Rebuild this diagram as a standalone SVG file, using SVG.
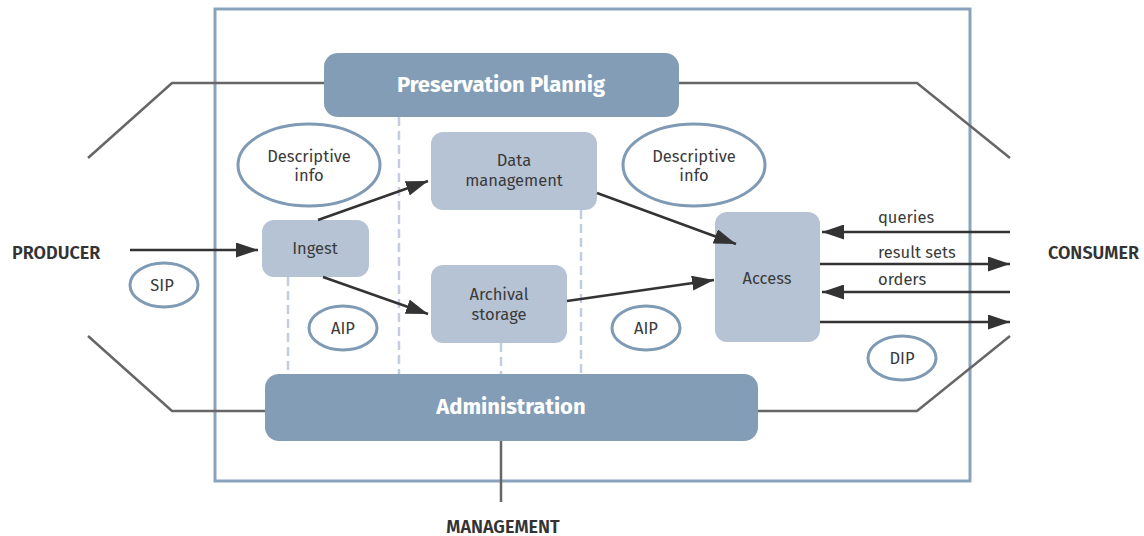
<svg xmlns="http://www.w3.org/2000/svg" width="1144" height="536" viewBox="0 0 1144 536">
<defs>
<marker id="ah" viewBox="0 0 22 15" refX="22" refY="7.5" markerWidth="22" markerHeight="15" markerUnits="userSpaceOnUse" orient="auto">
<path d="M0,0 L22,7.5 L0,15 Z" fill="#333333"/>
</marker>
<style>
.frame{fill:none;stroke:#8aa3bd;stroke-width:3}
.big{fill:#839db6}
.box{fill:#b6c3d4}
.ell{fill:#ffffff;stroke:#7f9ab5;stroke-width:3}
.gl{fill:none;stroke:#666666;stroke-width:2.5}
.ar{fill:none;stroke:#333333;stroke-width:2.5;marker-end:url(#ah)}
.dash{fill:none;stroke:#c3cde0;stroke-width:2.5;stroke-dasharray:9,5}
.t{font-family:"Fira Sans","Noto Sans","Open Sans",sans-serif;font-size:16.5px;fill:#3a3a3a;text-anchor:middle}
.tl{font-family:"Fira Sans","Noto Sans","Open Sans",sans-serif;font-size:16.5px;fill:#3a3a3a}
.h{font-family:"Fira Sans","Noto Sans","Open Sans",sans-serif;font-size:22px;font-weight:bold;fill:#ffffff;text-anchor:middle}
.ext{font-family:"Fira Sans","Noto Sans","Open Sans",sans-serif;font-size:18px;font-weight:600;fill:#333333}
</style>
</defs>
<rect x="0" y="0" width="1144" height="536" fill="#ffffff"/>
<rect class="frame" x="215" y="9" width="755" height="472"/>

<g id="lines">
<polyline class="gl" points="88,158 172,83 324,83"/>
<polyline class="gl" points="679,83 917,83 1010,158"/>
<polyline class="gl" points="88,336 172,411 265,411"/>
<polyline class="gl" points="758,411 917,411 1010,336"/>
<line class="gl" x1="501" y1="441" x2="501" y2="502"/>
<line class="dash" x1="288" y1="277" x2="288" y2="374"/>
<line class="dash" x1="399" y1="117" x2="399" y2="374"/>
<line class="dash" x1="501" y1="343" x2="501" y2="374"/>
<line class="dash" x1="581" y1="210" x2="581" y2="374"/>
</g>

<g id="preservation">
<rect class="big" x="324" y="53" width="355" height="64" rx="14"/>
<text class="h" x="501" y="92">Preservation Plannig</text>
</g>
<g id="administration">
<rect class="big" x="265" y="374" width="493" height="67" rx="14"/>
<text class="h" x="511" y="414">Administration</text>
</g>
<g id="ingest">
<rect class="box" x="262" y="220" width="107" height="57" rx="12"/>
<text class="t" x="315" y="254">Ingest</text>
</g>
<g id="datamgmt">
<rect class="box" x="431" y="132" width="166" height="78" rx="12"/>
<text class="t" x="514" y="166">Data</text>
<text class="t" x="514" y="186">management</text>
</g>
<g id="archival">
<rect class="box" x="431" y="265" width="136" height="78" rx="12"/>
<text class="t" x="499" y="300">Archival</text>
<text class="t" x="499" y="320">storage</text>
</g>
<g id="access">
<rect class="box" x="715" y="212" width="105" height="130" rx="12"/>
<text class="t" x="767" y="284">Access</text>
</g>
<g id="desc1">
<ellipse class="ell" cx="309" cy="165" rx="71" ry="41"/>
<text class="t" x="309" y="162">Descriptive</text>
<text class="t" x="309" y="181">info</text>
</g>
<g id="desc2">
<ellipse class="ell" cx="694" cy="165" rx="71" ry="41"/>
<text class="t" x="694" y="162">Descriptive</text>
<text class="t" x="694" y="181">info</text>
</g>
<g id="sip">
<ellipse class="ell" cx="164" cy="285" rx="34" ry="22"/>
<text class="t" x="162" y="291">SIP</text>
</g>
<g id="aip1">
<ellipse class="ell" cx="343" cy="328" rx="34" ry="22"/>
<text class="t" x="343" y="334">AIP</text>
</g>
<g id="aip2">
<ellipse class="ell" cx="646" cy="328" rx="34" ry="22"/>
<text class="t" x="646" y="334">AIP</text>
</g>
<g id="dip">
<ellipse class="ell" cx="902" cy="358" rx="34" ry="22"/>
<text class="t" x="902" y="364">DIP</text>
</g>

<g id="connectors">
<line class="ar" x1="130" y1="250" x2="258" y2="250"/>
<line class="ar" x1="318" y1="220" x2="428" y2="181"/>
<line class="ar" x1="323" y1="277" x2="428" y2="314"/>
<line class="ar" x1="597" y1="193" x2="736" y2="244"/>
<line class="ar" x1="567" y1="301" x2="714" y2="280"/>
<line class="ar" x1="1010" y1="232" x2="822" y2="232"/>
<line class="ar" x1="820" y1="264" x2="1010" y2="264"/>
<line class="ar" x1="1010" y1="292" x2="822" y2="292"/>
<line class="ar" x1="820" y1="322" x2="1010" y2="322"/>
</g>

<g id="labels">
<text class="tl" x="878" y="223">queries</text>
<text class="tl" x="878" y="258">result sets</text>
<text class="tl" x="878" y="285">orders</text>
</g>
<g id="producer"><text class="ext" x="12" y="259">PRODUCER</text></g>
<g id="consumer"><text class="ext" x="1048" y="259">CONSUMER</text></g>
<g id="management"><text class="ext" x="503" y="533" text-anchor="middle">MANAGEMENT</text></g>
</svg>
